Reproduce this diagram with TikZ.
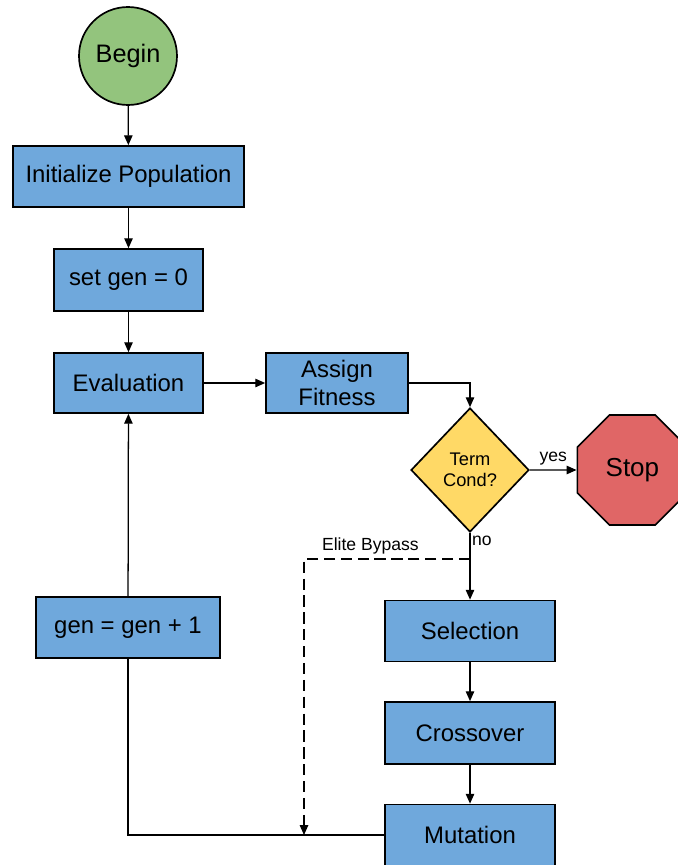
\documentclass[tikz,border=0pt]{standalone}
\usepackage{fontspec}
\setmainfont{Liberation Sans}
\usetikzlibrary{arrows.meta,shapes.geometric}
\definecolor{procblue}{RGB}{111,168,220}
\definecolor{begingreen}{RGB}{147,196,125}
\definecolor{condyellow}{RGB}{255,217,102}
\definecolor{stopred}{RGB}{224,102,102}
\tikzset{flow/.style={-{Triangle[length=7pt,width=6pt]},line width=0.9pt},
 process/.style={draw,line width=1.2pt,fill=procblue,inner sep=0pt,minimum height=1.525cm,align=center,
  font=\fontsize{17}{20}\selectfont},
 startnode/.style={draw,circle,line width=1.2pt,fill=begingreen,minimum size=2.45cm,inner sep=0pt,
  font=\fontsize{18}{21}\selectfont},
 decision/.style={draw,diamond,line width=1.2pt,fill=condyellow,minimum width=2.95cm,minimum height=3.1cm,
  inner sep=0pt,align=center,font=\fontsize{13}{15}\selectfont},
 stopnode/.style={draw,regular polygon,regular polygon sides=8,line width=1.2pt,fill=stopred,
  minimum size=2.98cm,inner sep=0pt,font=\fontsize{18.5}{21}\selectfont},
 label/.style={font=\fontsize{12.5}{15}\selectfont}}

\begin{document}
\begin{tikzpicture}
\useasboundingbox (0,0) rectangle (16.95,-21.625);
% left column
\node[startnode] (begin) at (3.2,-1.4) {Begin};
\node[process,minimum width=5.775cm] (init) at (3.2125,-4.4125) {Initialize Population};
\node[process,minimum width=3.725cm,minimum height=1.55cm] (setgen) at (3.2125,-7.0) {set gen = 0};
\node[process,minimum width=3.725cm,minimum height=1.5cm] (eval) at (3.2125,-9.575) {Evaluation};
\node[process,minimum width=4.6cm] (genplus) at (3.2,-15.6875) {gen = gen + 1};
% right column
\node[process,minimum width=3.55cm,minimum height=1.5cm] (assign) at (8.425,-9.575) {Assign\\Fitness};
\node[decision] (term) at (11.75,-11.75) {Term\\Cond?};
\node[stopnode] (stop) at (15.81,-11.75) {Stop};
\node[process,minimum width=4.25cm] (select) at (11.75,-15.775) {Selection};
\node[process,minimum width=4.25cm,minimum height=1.55cm] (cross) at (11.75,-18.325) {Crossover};
\node[process,minimum width=4.25cm] (mutate) at (11.75,-20.875) {Mutation};
\coordinate (bypass) at (11.75,-13.975);
\coordinate (join) at (7.6,-20.875);

\draw[flow] (begin)--(init);
\draw[flow] (init)--(setgen);
\draw[flow] (setgen)--(eval);
\draw[flow] (eval)--(assign);
\draw[flow] (assign.east)-|(term.north);
\draw[flow] (term)--(stop) node[midway,above,label] {yes};
\draw[flow] (term.south)--(select.north) node[pos=0.02,anchor=north west,label,inner sep=1pt] {no};
\draw[flow] (select)--(cross);
\draw[flow] (cross)--(mutate);
\draw[flow,dashed,dash pattern=on 8pt off 4pt] (bypass)-|(join)
 node[pos=0.3,above,label] {Elite Bypass};
\draw[line width=0.9pt] (mutate.west)-|(genplus.south);
\draw[flow] (genplus)--(eval);
\end{tikzpicture}
\end{document}
